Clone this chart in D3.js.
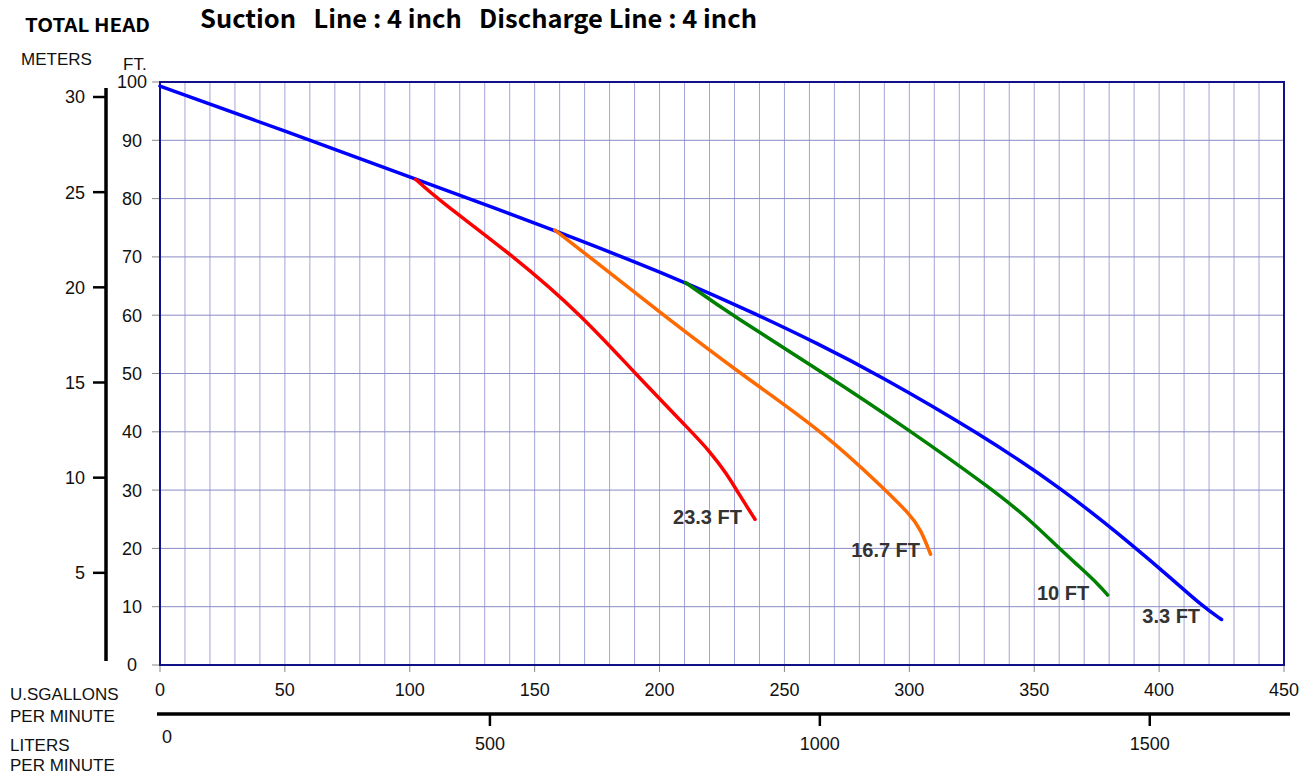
<!DOCTYPE html>
<html><head><meta charset="utf-8">
<script src="https://cdn.jsdelivr.net/npm/d3@7/dist/d3.min.js"></script>
<style>
body{margin:0;background:#fff;}
svg{display:block;}
.num{font-family:"Liberation Sans",Arial,sans-serif;font-size:18px;fill:#111;}
.lab{font-family:"Liberation Sans",Arial,sans-serif;font-size:17px;fill:#111;}
.ttl{font-family:"Noto Sans CJK JP","Liberation Sans",sans-serif;font-weight:bold;fill:#000;}
.cl{font-family:"Liberation Sans",Arial,sans-serif;font-weight:bold;font-size:20px;fill:#333;}
</style></head>
<body>
<svg id="c" width="1308" height="774"></svg>
<script>
// ---- data ----
const gpmTicks = [0,50,100,150,200,250,300,350,400,450];
const ftTicks = [0,10,20,30,40,50,60,70,80,90,100];
const meterTicks = [5,10,15,20,25,30];
const literTicks = [500,1000,1500];
const seriesNames = ["3.3 FT","10 FT","16.7 FT","23.3 FT"];
const seriesColors = ["#0000ff","#008000","#ff6a00","#ff0000"];
const curve33 = [[0,99.3],[50,91.6],[102,83.4],[158,74.6],[210.4,65.7],[239,60.1],[263,55.2],[287.5,49.8],[327,40],[361.5,30.2],[389.5,20.5],[405,14.8],[417.6,10],[425,7.8]];
const curve10 = [[210.4,65.6],[229,60],[266,50],[300,40.3],[333.6,30],[348,25],[360,20],[368,16.9],[376,13.7],[379.4,12]];
const curve167 = [[158.1,74.6],[172,70],[201.5,60],[232.2,50],[265.6,40],[290.5,30],[300.3,25.8],[304.5,23.3],[308.5,19]];
const curve233 = [[102.4,83.3],[110.8,80],[142,70],[168.8,60],[190.2,50],[212.8,40],[220.2,36.6],[226.9,32.8],[231.5,29.5],[238.2,25]];
const curves = [curve33, curve10, curve167, curve233];
// label anchor positions (gpm, ft) – right end of each curve label
const labelPos = [[416.4,8.4],[372,12.3],[304.3,19.7],[233,25.5]];

const svg = d3.select("#c");
const x = d3.scaleLinear([0,450],[160,1284]);
const y = d3.scaleLinear([0,100],[665,82]);
const yM = d3.scaleLinear([0,30],[668,97]);
const xL = d3.scaleLinear([0,450*3.78541],[160,1284]);

// grid
const g = svg.append("g");
g.selectAll("line.v").data(d3.range(10,450,10)).join("line")
  .attr("x1",d=>x(d)).attr("x2",d=>x(d)).attr("y1",y(100)).attr("y2",y(0))
  .attr("stroke","#a4a4da").attr("stroke-width",1);
g.selectAll("line.h").data(d3.range(10,100,10)).join("line")
  .attr("x1",x(0)).attr("x2",x(450)).attr("y1",d=>y(d)).attr("y2",d=>y(d))
  .attr("stroke","#8a8ac4").attr("stroke-width",1);

// ft axis ticks & labels
svg.selectAll("line.ft").data(ftTicks).join("line")
  .attr("x1",x(0)-8).attr("x2",x(0)).attr("y1",d=>y(d)).attr("y2",d=>y(d))
  .attr("stroke","#888").attr("stroke-width",1);
svg.selectAll("text.ft").data(ftTicks).join("text").attr("class","num")
  .attr("x",132).attr("y",d=>y(d)).attr("dy","0.36em").attr("text-anchor","middle")
  .text(d=>d);

// gpm axis ticks & labels
svg.selectAll("line.gp").data(gpmTicks).join("line")
  .attr("x1",d=>x(d)).attr("x2",d=>x(d)).attr("y1",y(0)).attr("y2",y(0)+7)
  .attr("stroke","#888").attr("stroke-width",1);
svg.selectAll("text.gp").data(gpmTicks).join("text").attr("class","num")
  .attr("x",d=>x(d)).attr("y",690).attr("dy","0.36em").attr("text-anchor","middle")
  .text(d=>d);

// frame
svg.append("rect").attr("x",x(0)).attr("y",y(100)).attr("width",x(450)-x(0)).attr("height",y(0)-y(100))
  .attr("fill","none").attr("stroke","#10108a").attr("stroke-width",2);

// meters axis
svg.append("line").attr("x1",106).attr("x2",106).attr("y1",88).attr("y2",661)
  .attr("stroke","#000").attr("stroke-width",3.5);
svg.selectAll("line.m").data(meterTicks).join("line")
  .attr("x1",93).attr("x2",106).attr("y1",d=>yM(d)).attr("y2",d=>yM(d))
  .attr("stroke","#000").attr("stroke-width",2.5);
svg.selectAll("text.m").data(meterTicks).join("text").attr("class","num")
  .attr("x",85).attr("y",d=>yM(d)).attr("dy","0.36em").attr("text-anchor","end")
  .text(d=>d);

// liters axis
svg.append("line").attr("x1",157).attr("x2",1290).attr("y1",714).attr("y2",714)
  .attr("stroke","#000").attr("stroke-width",3.5);
svg.selectAll("line.l").data(literTicks).join("line")
  .attr("x1",d=>xL(d)).attr("x2",d=>xL(d)).attr("y1",714).attr("y2",726)
  .attr("stroke","#000").attr("stroke-width",2.5);
svg.selectAll("text.l").data(literTicks).join("text").attr("class","num")
  .attr("x",d=>xL(d)).attr("y",744).attr("dy","0.36em").attr("text-anchor","middle")
  .text(d=>d);
svg.append("text").attr("class","num").attr("x",xL(0)+7).attr("y",737).attr("dy","0.36em")
  .attr("text-anchor","middle").text("0");

// curves
const line = d3.line().x(d=>x(d[0])).y(d=>y(d[1])).curve(d3.curveBasis);
svg.selectAll("path.c").data(curves).join("path")
  .attr("d",line).attr("fill","none")
  .attr("stroke",(d,i)=>seriesColors[i]).attr("stroke-width",3.5)
  .attr("stroke-linecap","round").attr("stroke-linejoin","round");

// curve labels
svg.selectAll("text.cl").data(seriesNames).join("text").attr("class","cl")
  .attr("x",(d,i)=>x(labelPos[i][0])).attr("y",(d,i)=>y(labelPos[i][1])).attr("dy","0.36em")
  .attr("text-anchor","end").text(d=>d);

// titles
svg.append("text").attr("class","ttl").attr("x",25).attr("y",32).attr("font-size","19px")
  .attr("textLength",125).attr("lengthAdjust","spacingAndGlyphs").text("TOTAL HEAD");
svg.append("text").attr("class","ttl").attr("x",200).attr("y",28).attr("font-size","25px")
  .attr("textLength",557).attr("lengthAdjust","spacingAndGlyphs")
  .attr("xml:space","preserve").style("white-space","pre")
  .text("Suction   Line : 4 inch   Discharge Line : 4 inch");
svg.append("text").attr("class","lab").attr("x",21).attr("y",65).attr("font-size","18px").text("METERS");
svg.append("text").attr("class","lab").attr("x",123).attr("y",70).attr("font-size","18px").text("FT.");
svg.append("text").attr("class","lab").attr("x",10).attr("y",700).text("U.SGALLONS");
svg.append("text").attr("class","lab").attr("x",10).attr("y",722).text("PER MINUTE");
svg.append("text").attr("class","lab").attr("x",10).attr("y",751).text("LITERS");
svg.append("text").attr("class","lab").attr("x",10).attr("y",771).text("PER MINUTE");
</script>
</body></html>
